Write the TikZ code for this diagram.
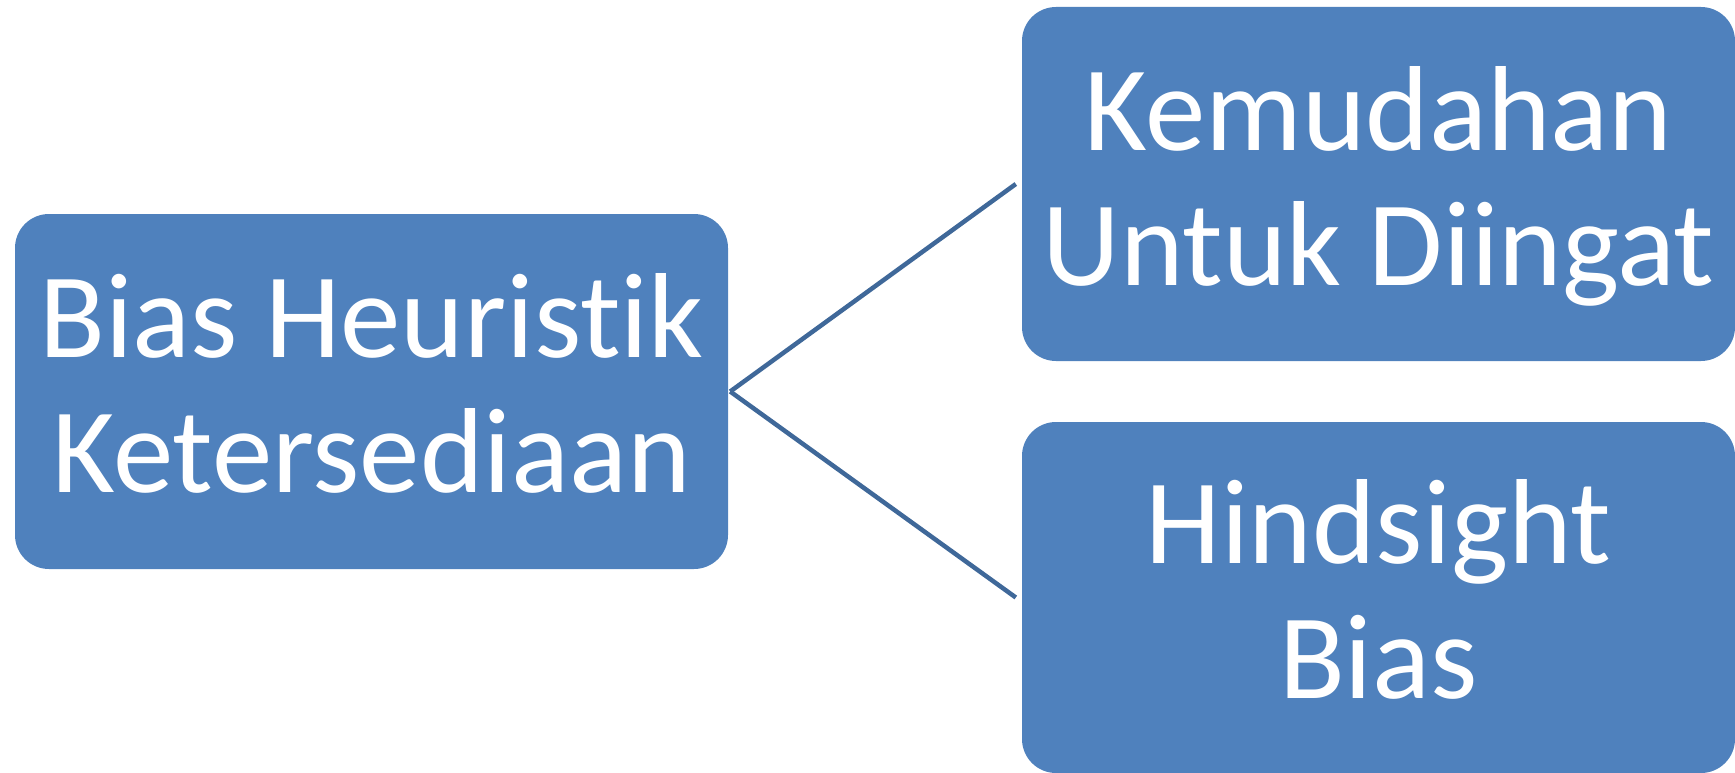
\documentclass[tikz,border=0pt]{standalone}
\usepackage{fontspec}
\setmainfont{Carlito}[Ligatures=NoCommon]
\definecolor{boxblue}{HTML}{4F81BD}
\definecolor{lineblue}{HTML}{3F6899}
\begin{document}
\begin{tikzpicture}[x=1pt,y=-1pt,
  blk/.style={fill=boxblue, rounded corners=34pt, inner sep=0pt, minimum width=713pt},
  txt/.style={text=white, inner sep=0pt, anchor=base, font=\fontsize{121}{135}\selectfont},
  conn/.style={draw=lineblue, line width=4.5pt}]
\useasboundingbox (0,0) rectangle (1735,773);
\node[blk, minimum height=355pt] (a) at (371.5,391.5) {};
\node[blk, minimum height=354pt] (b) at (1378.5,184) {};
\node[blk, minimum height=351pt] (c) at (1378.5,597.5) {};
\node[txt] (a1) at ([yshift=34pt]a.center) {Bias Heuristik};
\node[txt] (a2) at ([yshift=-101pt]a.center) {Ketersediaan};
\node[txt] (b1) at ([yshift=34pt]b.center) {Kemudahan};
\node[txt] (b2) at ([yshift=-101pt]b.center) {Untuk Diingat};
\node[txt] (c1) at ([yshift=34pt]c.center) {Hindsight};
\node[txt] (c2) at ([yshift=-101pt]c.center) {Bias};
\draw[conn] ([xshift=2pt]a.east) -- ([xshift=-6pt]b.west);
\draw[conn] ([xshift=2pt]a.east) -- ([xshift=-6pt]c.west);
\end{tikzpicture}
\end{document}
